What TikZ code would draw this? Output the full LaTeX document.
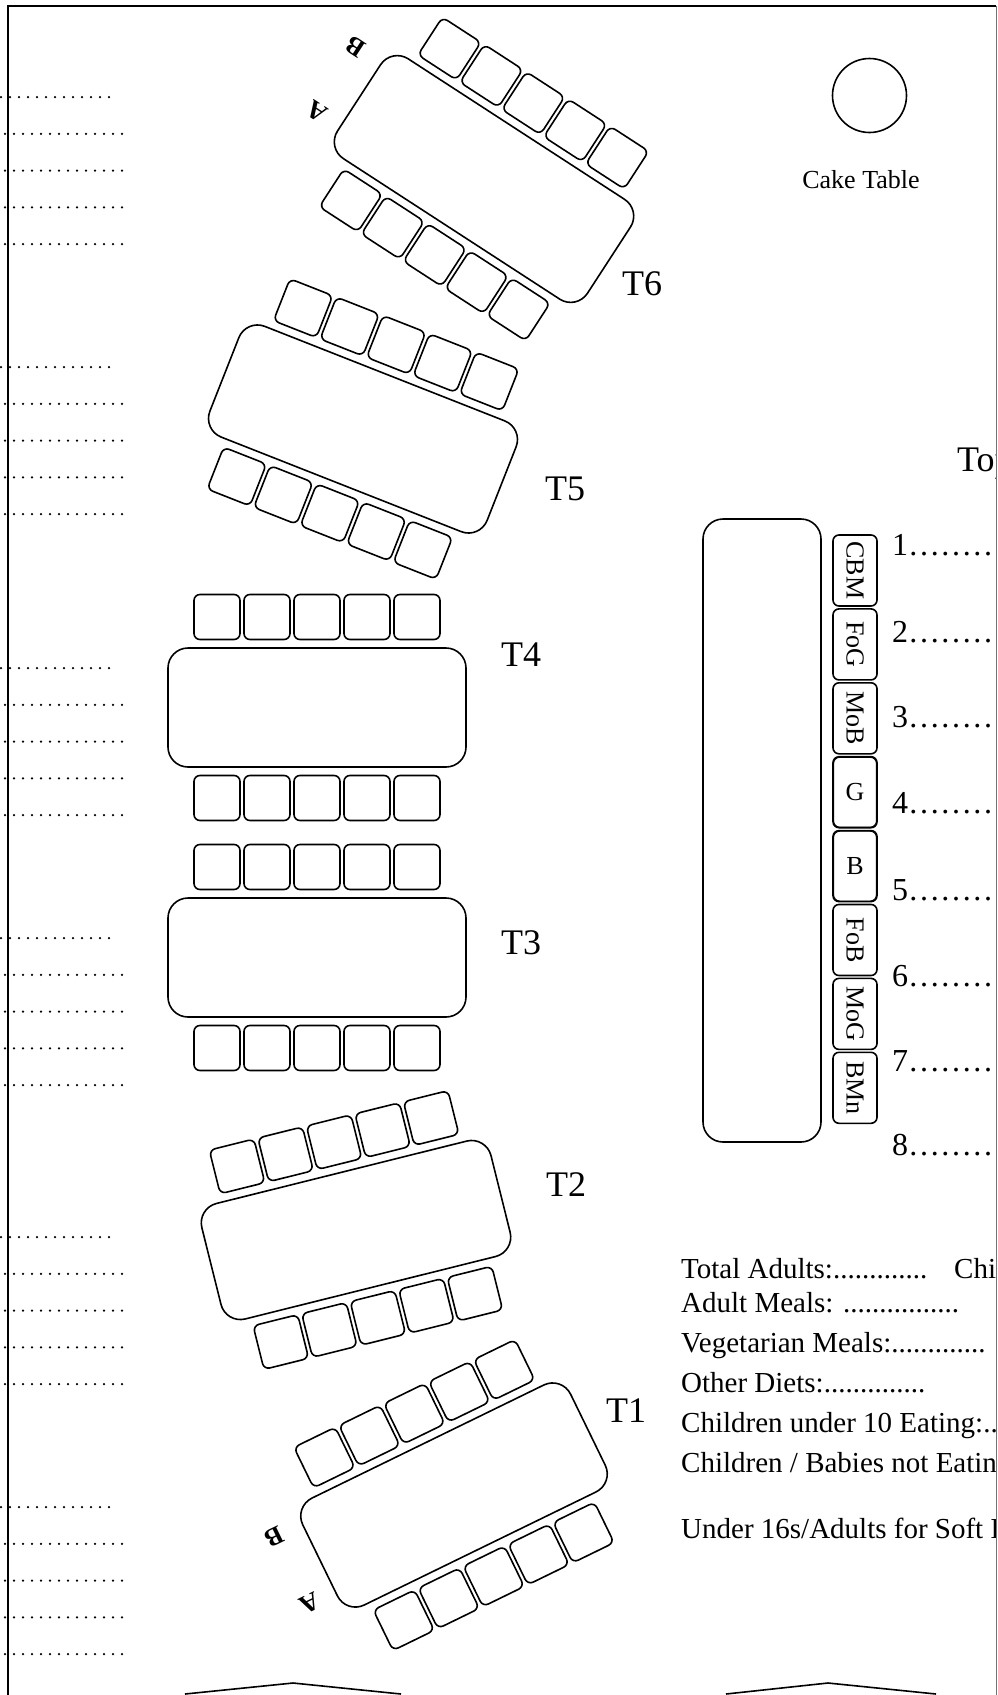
\documentclass[tikz,border=0pt]{standalone}
\usepackage{fontspec}
\setmainfont{Liberation Serif}
\newcommand\myfs[1]{\fontsize{#1}{#1}\selectfont}
\newcommand\tablegroup[4]{%
  \begin{scope}[shift={(#2,#3)},rotate=#4,transform shape]
    \node[tablebox] (#1) at (0,0) {};
    \foreach \i in {1,...,5} {
      \node[seat] (#1u\i) at ({(\i-3)*50},-90.5) {};
      \node[seat] (#1l\i) at ({(\i-3)*50},90.5) {};
    }
  \end{scope}}
\newcommand\ablabels[4]{%
  \begin{scope}[shift={(#2,#3)},rotate=#4,transform shape]
    \node[ablabel,rotate=180] (#1A) at (-177,34) {A};
    \node[ablabel,rotate=180] (#1B) at (-180,-41) {B};
  \end{scope}}
\begin{document}
\begin{tikzpicture}[x=1pt,y=-1pt,
  seat/.style={draw,line width=1.6pt,rounded corners=6pt,minimum width=46pt,minimum height=45pt,inner sep=0pt},
  tablebox/.style={draw,line width=1.6pt,rounded corners=20pt,minimum width=298pt,minimum height=119pt,inner sep=0pt},
  tlabel/.style={font=\myfs{36},inner sep=0pt},
  ablabel/.style={font=\bfseries\myfs{26},inner sep=0pt},
  form/.style={font=\myfs{29},inner sep=0pt,anchor=base west},
  numline/.style={font=\myfs{32},inner sep=0pt,anchor=base west},
  leader/.style={line width=2.5pt,line cap=round,dash pattern=on 0pt off 9pt},
  topseat/.style={draw,line width=1.6pt,rounded corners=6pt,minimum width=44pt,minimum height=71pt,inner sep=0pt},
  seatname/.style={font=\myfs{26},inner sep=0pt}]

\useasboundingbox (0,0) rectangle (997,1695);
\fill[white] (0,0) rectangle (997,1695);

% frame
\draw[line width=2pt] (8,1695) -- (8,6) -- (996,6);
\draw[line width=1pt,black!55] (996,6) -- (996,1695);

% left leader lines
\foreach \y in {97,367,668,938,1237,1507} {
  \draw[leader] (1,\y) -- (113,\y);
  \foreach \k in {1,...,4} \draw[leader] (5,{\y+\k*36.75}) -- (122,{\y+\k*36.75});
}

% guest tables
\tablegroup{t6}{484}{179}{-33}
\tablegroup{t5}{363}{429}{-21.5}
\tablegroup{t4}{317}{707.5}{0}
\tablegroup{t3}{317}{957.5}{0}
\tablegroup{t2}{356}{1230}{14}
\tablegroup{t1}{454}{1495}{26}
\ablabels{t6}{484}{179}{-33}
\ablabels{t1}{454}{1495}{26}

\node[tlabel] (l6) at (642,284) {T6};
\node[tlabel] (l5) at (565,489) {T5};
\node[tlabel] (l4) at (521,655) {T4};
\node[tlabel] (l3) at (521,943) {T3};
\node[tlabel] (l2) at (566,1185) {T2};
\node[tlabel] (l1) at (626,1411) {T1};

% cake table
\node[draw,circle,line width=1.6pt,minimum size=74pt,inner sep=0pt] (cake) at (869.5,95.5) {};
\node[font=\myfs{26},inner sep=0pt] (caketxt) at (861,180) {Cake Table};

% top table
\node[draw,line width=1.6pt,rounded corners=20pt,minimum width=118pt,minimum height=623pt,inner sep=0pt] (top) at (762,830.5) {};
\foreach \n/\t/\r [count=\c from 0] in {s1/CBM/-90,s2/FoG/-90,s3/MoB/-90,s4/G/0,s5/B/0,s6/FoB/-90,s7/MoG/-90,s8/BMn/-90} {
  \node[topseat] (\n) at (855,{570.5+\c*73.9}) {};
  \node[seatname,rotate=\r] (\n t) at (\n) {\t};
}
\draw[line width=0.8pt,rounded corners=6pt] ([shift={(1.5,1.5)}]s4.north west) rectangle ([shift={(-1.5,-1.5)}]s4.south east);
\draw[line width=0.8pt,rounded corners=6pt] ([shift={(1.5,1.5)}]s5.north west) rectangle ([shift={(-1.5,-1.5)}]s5.south east);

\begin{scope}
  \clip (0,0) rectangle (995.5,1695);
  \node[font=\myfs{36},inner sep=0pt,anchor=base west] (toptitle) at (957,471) {Top Table};
  \node[numline] (n1) at (892,555) {1……………};
  \node[numline] (n2) at (892,642) {2……………};
  \node[numline] (n3) at (892,727) {3……………};
  \node[numline] (n4) at (892,813) {4……………};
  \node[numline] (n5) at (892,900) {5……………};
  \node[numline] (n6) at (892,986) {6……………};
  \node[numline] (n7) at (892,1071) {7……………};
  \node[numline] (n8) at (892,1155) {8……………};
  \node[form] (f1) at (681,1278) {Total Adults:.............};
  \node[form] (f1b) at (954,1278) {Children:..............};
  \node[form] (f2) at (681,1312) {Adult Meals: ................};
  \node[form] (f3) at (681,1352) {Vegetarian Meals:.............};
  \node[form] (f4) at (681,1392) {Other Diets:..............};
  \node[form] (f5) at (681,1432) {Children under 10 Eating:..............};
  \node[form] (f6) at (681,1472) {Children / Babies not Eating:..............};
  \node[form] (f7) at (681,1538) {Under 16s/Adults for Soft Drinks:..............};
\end{scope}

% bottom edges of shapes below
\draw[line width=1.6pt] (185,1694) -- (293,1683) -- (401,1694);
\draw[line width=1.6pt] (726,1694) -- (828,1683) -- (936,1694);
\end{tikzpicture}
\end{document}
